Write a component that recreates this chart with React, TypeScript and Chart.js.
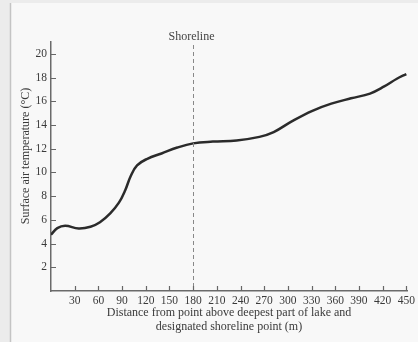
import React, { useEffect, useRef } from "react";
import { Chart, registerables } from "chart.js";

Chart.register(...registerables);

const distances = [0, 8, 18, 35, 50, 62, 75, 86, 94, 101, 109, 122, 140, 160, 180, 205, 235, 264, 282, 306, 331, 355, 380, 404, 422, 438, 450];
const temps = [4.75, 5.3, 5.5, 5.28, 5.42, 5.8, 6.55, 7.45, 8.5, 9.7, 10.6, 11.15, 11.6, 12.1, 12.45, 12.6, 12.7, 13.0, 13.4, 14.35, 15.2, 15.8, 16.25, 16.65, 17.25, 17.9, 18.3];
const xTickValues = [30, 60, 90, 120, 150, 180, 210, 240, 270, 300, 330, 360, 390, 420, 450];
const yTickValues = [2, 4, 6, 8, 10, 12, 14, 16, 18, 20];
const shorelineX = 180;
const shorelineLabel = "Shoreline";
const yTitle = "Surface air temperature (°C)";
const xTitleLines = ["Distance from point above deepest part of lake and", "designated shoreline point (m)"];

const FONT = "'Liberation Serif', 'DejaVu Serif', serif";

const decorPlugin = {
  id: "decor",
  beforeDraw(chart: any) {
    const { ctx, width, height } = chart;
    ctx.save();
    ctx.fillStyle = "#f8f8f8";
    ctx.fillRect(0, 0, width, height);
    ctx.fillStyle = "#ececec";
    ctx.fillRect(0, 0, 10, height);
    ctx.fillRect(0, 0, width, 3);
    ctx.strokeStyle = "#c4c4c4";
    ctx.lineWidth = 1.5;
    ctx.beginPath();
    ctx.moveTo(10.5, 3);
    ctx.lineTo(10.5, height);
    ctx.stroke();
    ctx.restore();
  },
  afterDatasetsDraw(chart: any) {
    const { ctx, chartArea } = chart;
    const xs = chart.scales.x;
    const ys = chart.scales.y;
    ctx.save();
    const sx = Math.round(xs.getPixelForValue(shorelineX)) + 0.5;
    ctx.strokeStyle = "#888";
    ctx.lineWidth = 1;
    ctx.setLineDash([4, 3]);
    ctx.beginPath();
    ctx.moveTo(sx, 45);
    ctx.lineTo(sx, chartArea.bottom);
    ctx.stroke();
    ctx.setLineDash([]);
    ctx.fillStyle = "#444";
    ctx.font = `12px ${FONT}`;
    ctx.textAlign = "center";
    ctx.textBaseline = "middle";
    ctx.fillText(shorelineLabel, sx - 2, 37);
    ctx.strokeStyle = "#666";
    ctx.lineWidth = 1.2;
    ctx.beginPath();
    xTickValues.forEach((v) => {
      const px = Math.round(xs.getPixelForValue(v)) + 0.5;
      ctx.moveTo(px, chartArea.bottom);
      ctx.lineTo(px, chartArea.bottom - 5);
    });
    yTickValues.forEach((v) => {
      const py = Math.round(ys.getPixelForValue(v)) + 0.5;
      ctx.moveTo(chartArea.left, py);
      ctx.lineTo(chartArea.left + 5, py);
    });
    ctx.stroke();
    ctx.fillStyle = "#3a3a3a";
    ctx.font = `12px ${FONT}`;
    ctx.textAlign = "center";
    ctx.textBaseline = "middle";
    xTitleLines.forEach((line, i) => {
      ctx.fillText(line, 229, 313 + i * 13.5);
    });
    ctx.translate(26, 156);
    ctx.rotate(-Math.PI / 2);
    ctx.fillText(yTitle, 0, 0);
    ctx.restore();
  },
};

export default function App() {
  const ref = useRef<HTMLCanvasElement | null>(null);
  useEffect(() => {
    document.body.style.margin = "0";
    const canvas = ref.current;
    if (!canvas) return;
    const chart = new Chart(canvas, {
      type: "line",
      data: {
        datasets: [
          {
            data: distances.map((d, i) => ({ x: d, y: temps[i] })),
            borderColor: "#2b2b2b",
            borderWidth: 2.5,
            pointRadius: 0,
            tension: 0.4,
            fill: false,
          },
        ],
      },
      options: {
        animation: false,
        responsive: false,
        devicePixelRatio: 1,
        layout: { padding: { top: 42, right: 9, left: 0, bottom: 0 } },
        plugins: { legend: { display: false }, tooltip: { enabled: false } },
        scales: {
          x: {
            type: "linear",
            min: 0,
            max: 452,
            afterBuildTicks: (scale: any) => {
              scale.ticks = xTickValues.map((v) => ({ value: v }));
            },
            afterFit: (scale: any) => {
              scale.height = 51;
            },
            grid: { display: false, drawTicks: false },
            border: { display: true, color: "#6a6a6a", width: 1.5 },
            ticks: {
              padding: 3,
              autoSkip: false,
              maxRotation: 0,
              color: "#3a3a3a",
              font: { family: FONT, size: 11.5 },
            },
          },
          y: {
            type: "linear",
            min: 0,
            max: 21,
            afterBuildTicks: (scale: any) => {
              scale.ticks = yTickValues.map((v) => ({ value: v }));
            },
            afterFit: (scale: any) => {
              scale.width = 51;
            },
            grid: { display: false, drawTicks: false },
            border: { display: true, color: "#6a6a6a", width: 1.5 },
            ticks: {
              padding: 4,
              color: "#3a3a3a",
              font: { family: FONT, size: 11.5 },
            },
          },
        },
      },
      plugins: [decorPlugin],
    } as any);
    return () => chart.destroy();
  }, []);
  return <canvas ref={ref} width={418} height={342} style={{ display: "block" }} />;
}
